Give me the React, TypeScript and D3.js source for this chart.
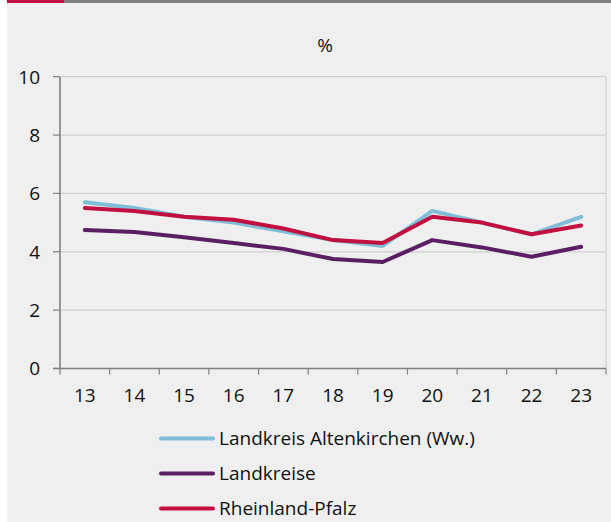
import React from "react";
import * as d3 from "d3";

const years = ["13", "14", "15", "16", "17", "18", "19", "20", "21", "22", "23"];
const altenkirchen = [5.7, 5.5, 5.2, 5.0, 4.7, 4.4, 4.2, 5.4, 5.0, 4.6, 5.2];
const landkreise = [4.75, 4.68, 4.5, 4.3, 4.1, 3.75, 3.65, 4.4, 4.15, 3.83, 4.17];
const rlp = [5.5, 5.4, 5.2, 5.1, 4.8, 4.4, 4.3, 5.2, 5.0, 4.6, 4.9];
const yTicks = [0, 2, 4, 6, 8, 10];
const seriesNames = ["Landkreis Altenkirchen (Ww.)", "Landkreise", "Rheinland-Pfalz"];
const seriesColors = ["#7fbdd8", "#5a1f63", "#c10f3f"];

const W = 611;
const H = 522;
const FONT = "'Open Sans', 'Noto Sans', sans-serif";

export default function App() {
  const left = 60, right = 606, top = 76.7, bottom = 368.5;
  const x = d3.scaleBand<string>().domain(years).range([left, right]).padding(0);
  const y = d3.scaleLinear().domain([0, 10]).range([bottom, top]);
  const line = d3
    .line<number>()
    .x((_, i) => (x(years[i]) as number) + x.bandwidth() / 2)
    .y((d) => y(d));
  const allSeries = [altenkirchen, landkreise, rlp];

  return (
    <svg
      width={W}
      height={H}
      style={{ position: "absolute", left: 0, top: 0, display: "block" }}
      fontFamily={FONT}
    >
      <rect x={7} y={0} width={W - 7} height={H} fill="#eeefee" />
      <rect x={7} y={0} width={W - 7} height={3} fill="#808080" />
      <rect x={7} y={0} width={57} height={3} fill="#c10f3f" />
      <text x={325} y={52} textAnchor="middle" fontSize={19} fill="#111">%</text>

      {yTicks.map((t) => (
        <g key={t}>
          {t > 0 && (
            <line x1={left} x2={right} y1={y(t)} y2={y(t)} stroke="#cfcfcf" strokeWidth={1.2} />
          )}
          <line x1={left - 7} x2={left} y1={y(t)} y2={y(t)} stroke="#808080" strokeWidth={1.2} />
          <text x={40} y={y(t)} dy="0.36em" textAnchor="end" fontSize={19} fill="#111">
            {t}
          </text>
        </g>
      ))}
      <line x1={right} x2={right} y1={top} y2={bottom} stroke="#cfcfcf" strokeWidth={1.2} />
      <line x1={left} x2={left} y1={top} y2={bottom} stroke="#808080" strokeWidth={1.6} />
      <line x1={left - 7} x2={right} y1={bottom} y2={bottom} stroke="#808080" strokeWidth={1.6} />
      {years.map((yr) => (
        <g key={yr}>
          <line
            x1={x(yr) as number}
            x2={x(yr) as number}
            y1={bottom}
            y2={bottom + 6}
            stroke="#808080"
            strokeWidth={1.2}
          />
          <text
            x={(x(yr) as number) + x.bandwidth() / 2}
            y={402}
            textAnchor="middle"
            fontSize={19}
            fill="#111"
          >
            {yr}
          </text>
        </g>
      ))}
      <line x1={right} x2={right} y1={bottom} y2={bottom + 6} stroke="#808080" strokeWidth={1.2} />

      {allSeries.map((s, i) => (
        <path
          key={i}
          d={line(s) || ""}
          fill="none"
          stroke={seriesColors[i]}
          strokeWidth={4}
          strokeLinejoin="round"
          strokeLinecap="round"
        />
      ))}

      {seriesNames.map((n, i) => (
        <g key={n} transform={`translate(0, ${438.5 + i * 35})`}>
          <line x1={161} x2={213} y1={0} y2={0} stroke={seriesColors[i]} strokeWidth={4} strokeLinecap="round" />
          <text x={219} y={0} dy="0.36em" fontSize={19} fill="#111">
            {n}
          </text>
        </g>
      ))}
    </svg>
  );
}
